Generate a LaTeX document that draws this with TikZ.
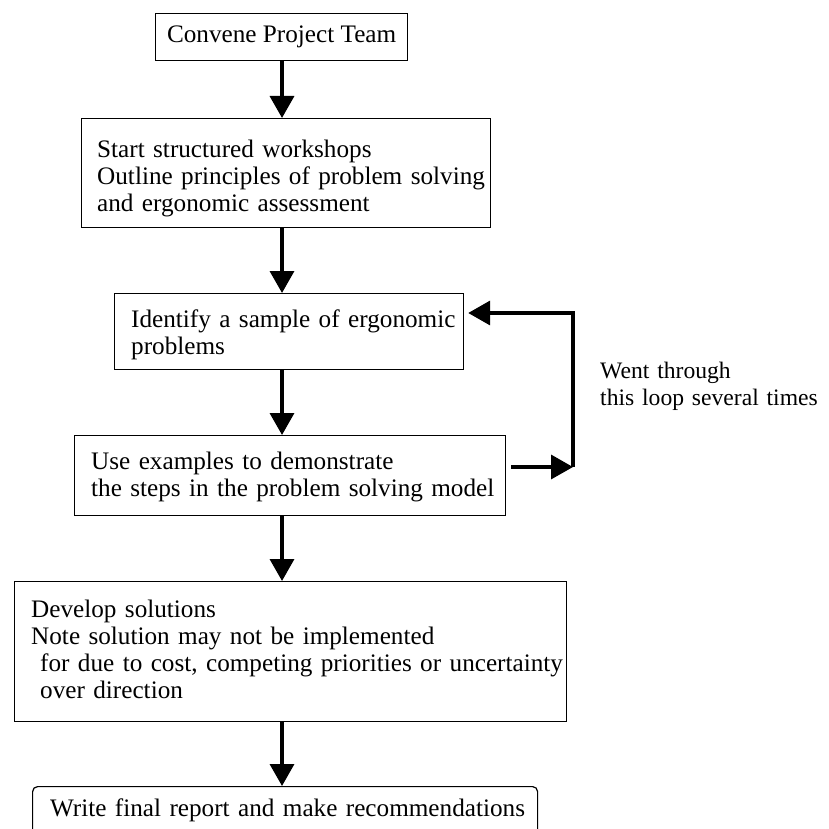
\documentclass[tikz,border=0pt]{standalone}
\usepackage{fontspec}
\setmainfont{Liberation Serif}
\usetikzlibrary{arrows.meta}
\begin{document}
\begin{tikzpicture}[x=1pt,y=-1pt,
  box/.style={draw, line width=1.2pt, anchor=north west, inner sep=0pt},
  txt/.style={anchor=base west, inner sep=0pt, text width=560pt, align=left, font=\fontsize{25.2}{27}\selectfont},
  arr/.style={line width=3.5pt, line join=miter, -{Triangle[length=22pt,width=24pt]}},
  loopline/.style={line width=3.5pt}]
\useasboundingbox (0,0) rectangle (828,829);
\clip (0,0) rectangle (828,829);
\fill[white] (0,0) rectangle (828,829);
% boxes
\node[box, minimum width=252pt, minimum height=47pt, font=\fontsize{25.2}{27}\selectfont] (b1) at (155,13) {Convene Project Team};
\node[box, minimum width=409pt, minimum height=109pt] (b2) at (81,118) {};
\node[txt] (t2) at (97,158) {Start structured workshops\\Outline principles of problem solving\\and ergonomic assessment};
\node[box, minimum width=349pt, minimum height=76pt] (b3) at (114,293) {};
\node[txt] (t3) at (131,327) {Identify a sample of ergonomic\\problems};
\node[box, minimum width=431pt, minimum height=80pt] (b4) at (74,435) {};
\node[txt] (t4) at (91,469) {Use examples to demonstrate\\the steps in the problem solving model};
\node[box, minimum width=552pt, minimum height=140pt] (b5) at (14,581) {};
\node[txt] (t5) at (31,617) {Develop solutions\\Note solution may not be implemented\\\hspace*{9pt}for due to cost, competing priorities or uncertainty\\\hspace*{9pt}over direction};
\node[box, rounded corners=5pt, minimum width=505pt, minimum height=100pt] (b6) at (32,786) {};
\node[txt] (t6) at (50,816) {Write final report and make recommendations};
% label
\node[txt, text width=300pt, font=\fontsize{23.6}{27}\selectfont] (lbl) at (600,378) {Went through\\this loop several times};
% main arrows
\coordinate (ax) at (282,0);
\draw[arr] (b1.south -| ax) -- (b2.north -| ax);
\draw[arr] (b2.south -| ax) -- (b3.north -| ax);
\draw[arr] (b3.south -| ax) -- (b4.north -| ax);
\draw[arr] (b4.south -| ax) -- (b5.north -| ax);
\draw[arr] (b5.south -| ax) -- (b6.north -| ax);
% loop
\coordinate (lt) at (573,313);
\coordinate (lb) at (573,467);
\draw[arr] (lb) -- (lt) -- ([xshift=4pt]b3.east |- lt);
\draw[arr] ([xshift=5pt]b4.east |- lb) -- (lb);
\end{tikzpicture}
\end{document}
